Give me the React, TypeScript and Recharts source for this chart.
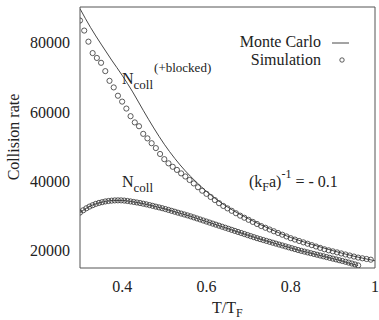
import React from 'react';
import { ComposedChart, Line, Scatter, XAxis, YAxis } from 'recharts';

// Monte Carlo (solid lines)
const mcUpperT = [0.3, 0.325, 0.35, 0.375, 0.4, 0.425, 0.45, 0.475, 0.5, 0.525, 0.55, 0.575, 0.6, 0.65, 0.7, 0.75, 0.8, 0.85, 0.9, 0.95, 1.0];
const mcUpperV = [89800, 84400, 79600, 75000, 70600, 65800, 60500, 55400, 50700, 46600, 43000, 39900, 37100, 32600, 29200, 26300, 23800, 21800, 20000, 18400, 17100];

const mcLowerT = [0.3, 0.32, 0.34, 0.36, 0.38, 0.4, 0.42, 0.44, 0.46, 0.48, 0.5, 0.52, 0.54, 0.56, 0.58, 0.6, 0.62, 0.64, 0.66, 0.68, 0.7, 0.72, 0.74, 0.76, 0.78, 0.8, 0.82, 0.84, 0.86, 0.88, 0.9, 0.92, 0.94, 0.96];
const mcLowerV = [31000, 32600, 33600, 34200, 34500, 34500, 34200, 33800, 33300, 32700, 32100, 31400, 30700, 30000, 29200, 28400, 27600, 26800, 26000, 25200, 24400, 23600, 22900, 22200, 21500, 20800, 20100, 19500, 18900, 18300, 17700, 17100, 16350, 15700];

// Simulation (open circles) - N_coll(+blocked)
const simUpperT = [0.30, 0.31, 0.32, 0.33, 0.34, 0.35, 0.36, 0.37, 0.38, 0.39, 0.40, 0.41, 0.42, 0.43, 0.44, 0.45, 0.46, 0.47, 0.48, 0.49, 0.50, 0.51, 0.52, 0.53, 0.54, 0.55, 0.56, 0.57, 0.58, 0.59, 0.60, 0.61, 0.62, 0.63, 0.64, 0.65, 0.66, 0.67, 0.68, 0.69, 0.70, 0.71, 0.72, 0.73, 0.74, 0.75, 0.76, 0.77, 0.78, 0.79, 0.80, 0.81, 0.82, 0.83, 0.84, 0.85, 0.86, 0.87, 0.88, 0.89, 0.90, 0.91, 0.92, 0.93, 0.94, 0.95, 0.96, 0.97, 0.98, 0.99];
const simUpperV = [86400, 83500, 80300, 77000, 75600, 74200, 71800, 69000, 67100, 64700, 63000, 61000, 58800, 57000, 55900, 53700, 52400, 51000, 49600, 47900, 46400, 45200, 44200, 43300, 42300, 41400, 40400, 39400, 38300, 37300, 36400, 35500, 34600, 33700, 32900, 32200, 31500, 30800, 30100, 29500, 28900, 28300, 27700, 27100, 26600, 26100, 25600, 25100, 24600, 24100, 23600, 23200, 22800, 22400, 22000, 21600, 21200, 20800, 20400, 20100, 19800, 19500, 19200, 18900, 18600, 18300, 18000, 17800, 17600, 17400];

// Simulation (open circles) - N_coll
const simLowerT = [0.3, 0.3075, 0.315, 0.3225, 0.33, 0.3375, 0.345, 0.3525, 0.36, 0.3675, 0.375, 0.3825, 0.39, 0.3975, 0.405, 0.4125, 0.42, 0.4275, 0.435, 0.4425, 0.45, 0.4575, 0.465, 0.4725, 0.48, 0.4875, 0.495, 0.5025, 0.51, 0.5175, 0.525, 0.5325, 0.54, 0.5475, 0.555, 0.5625, 0.57, 0.5775, 0.585, 0.5925, 0.6, 0.6075, 0.615, 0.6225, 0.63, 0.6375, 0.645, 0.6525, 0.66, 0.6675, 0.675, 0.6825, 0.69, 0.6975, 0.705, 0.7125, 0.72, 0.7275, 0.735, 0.7425, 0.75, 0.7575, 0.765, 0.7725, 0.78, 0.7875, 0.795, 0.8025, 0.81, 0.8175, 0.825, 0.8325, 0.84, 0.8475, 0.855, 0.8625, 0.87, 0.8775, 0.885, 0.8925, 0.9, 0.9075, 0.915, 0.9225, 0.93, 0.9375, 0.945, 0.9525, 0.96];
const simLowerV = [31000, 31650, 32230, 32720, 33120, 33500, 33780, 33990, 34200, 34330, 34430, 34500, 34520, 34510, 34450, 34340, 34200, 34050, 33900, 33740, 33550, 33360, 33150, 32930, 32700, 32480, 32250, 32010, 31750, 31490, 31230, 30960, 30700, 30440, 30180, 29900, 29600, 29300, 29000, 28700, 28400, 28100, 27800, 27500, 27200, 26900, 26600, 26300, 26000, 25700, 25400, 25100, 24800, 24500, 24200, 23900, 23600, 23330, 23070, 22810, 22550, 22290, 22030, 21760, 21500, 21240, 20970, 20710, 20450, 20190, 19950, 19730, 19500, 19280, 19050, 18830, 18600, 18380, 18150, 17930, 17700, 17480, 17250, 17030, 16800, 16560, 16300, 16030, 15750];

const xTicks = [0.4, 0.6, 0.8, 1];
const yTicks = [20000, 40000, 60000, 80000];
const xDomain = [0.3, 1];
const yDomain = [15000, 90300];

const pts = (t: number[], v: number[]) => t.map((x, i) => ({ t: x, v: v[i] }));

const FONT = "'Liberation Serif', 'Times New Roman', Times, 'DejaVu Serif', 'Noto Serif', serif";
const INK = '#222';
const AXIS = '#555';

const Circle = (props: any) => {
  const { cx, cy } = props;
  if (cx == null || cy == null) return <g />;
  return <circle cx={cx} cy={cy} r={2.6} fill="none" stroke="#333" strokeWidth={0.8} />;
};

const tx = { fontFamily: FONT, fill: INK } as const;

export default function App() {
  const tickStyle = { fontFamily: FONT, fontSize: 16, fill: INK };
  return (
    <div style={{ position: 'absolute', left: 0, top: 0, width: 379, height: 320, background: '#fff', fontFamily: FONT }}>
      <ComposedChart width={379} height={320} margin={{ top: 7, right: 4, bottom: 22, left: 20 }}>
        <XAxis xAxisId="main" orientation="bottom" dataKey="t" type="number" domain={xDomain} ticks={xTicks}
          allowDataOverflow height={30} tickLine={false} tickSize={0} tickMargin={13}
          axisLine={{ stroke: AXIS }} tick={tickStyle} tickFormatter={(v: number) => String(v)} />
        <XAxis xAxisId="bottomTicks" orientation="bottom" mirror type="number" domain={xDomain} ticks={xTicks}
          allowDataOverflow height={30} tick={false} axisLine={false} tickLine={{ stroke: AXIS }} tickSize={6} />
        <XAxis xAxisId="topTicks" orientation="top" mirror type="number" domain={xDomain} ticks={xTicks}
          allowDataOverflow height={30} tick={false} axisLine={{ stroke: AXIS }} tickLine={{ stroke: AXIS }} tickSize={6} />
        <YAxis yAxisId="main" orientation="left" dataKey="v" type="number" domain={yDomain} ticks={yTicks}
          allowDataOverflow width={60} tickLine={false} tickSize={0} tickMargin={10}
          axisLine={{ stroke: AXIS }} tick={tickStyle} />
        <YAxis yAxisId="leftTicks" orientation="left" mirror type="number" domain={yDomain} ticks={yTicks}
          allowDataOverflow width={60} tick={false} axisLine={false} tickLine={{ stroke: AXIS }} tickSize={6} />
        <YAxis yAxisId="rightTicks" orientation="right" mirror type="number" domain={yDomain} ticks={yTicks}
          allowDataOverflow width={60} tick={false} axisLine={{ stroke: AXIS }} tickLine={{ stroke: AXIS }} tickSize={6} />

        <Line xAxisId="main" yAxisId="main" data={pts(mcUpperT, mcUpperV)} dataKey="v" type="monotone"
          stroke="#333" strokeWidth={0.9} dot={false} isAnimationActive={false} />
        <Line xAxisId="main" yAxisId="main" data={pts(mcLowerT, mcLowerV)} dataKey="v" type="monotone"
          stroke="#333" strokeWidth={0.9} dot={false} isAnimationActive={false} />
        <Scatter xAxisId="main" yAxisId="main" data={pts(simUpperT, simUpperV)} dataKey="v"
          shape={Circle} isAnimationActive={false} />
        <Scatter xAxisId="main" yAxisId="main" data={pts(simLowerT, simLowerV)} dataKey="v"
          shape={Circle} isAnimationActive={false} />
      </ComposedChart>

      <svg width={379} height={320} style={{ position: 'absolute', left: 0, top: 0, pointerEvents: 'none' }}>
        <text x={19} y={137} fontSize={16} textAnchor="middle" transform="rotate(-90 19 137)" style={tx}>Collision rate</text>
        <text x={212} y={313} fontSize={16} style={tx}>T/T<tspan fontSize={12} dy={4}>F</tspan></text>

        <text x={321} y={47} fontSize={16} textAnchor="end" style={tx}>Monte Carlo</text>
        <line x1={332} y1={43} x2={349} y2={43} stroke="#333" strokeWidth={0.9} />
        <text x={321} y={65} fontSize={16} textAnchor="end" style={tx}>Simulation</text>
        <circle cx={342} cy={60} r={2.2} fill="none" stroke="#333" strokeWidth={0.8} />

        <text x={122} y={84} fontSize={16} style={tx}>N<tspan fontSize={13} dy={5}>coll</tspan><tspan fontSize={13} dy={-17} dx={1}>(+blocked)</tspan></text>

        <text x={122} y={187} fontSize={16} style={tx}>N<tspan fontSize={13} dy={5}>coll</tspan></text>

        <text x={249} y={187} fontSize={16} style={tx}>(k<tspan fontSize={12} dy={4}>F</tspan><tspan fontSize={16} dy={-4}>a)</tspan><tspan fontSize={12} dy={-9}>-1</tspan><tspan fontSize={16} dy={9} dx={4}>=</tspan><tspan fontSize={16} dx={4}>-</tspan><tspan fontSize={16} dx={4}>0.1</tspan></text>
      </svg>
    </div>
  );
}
